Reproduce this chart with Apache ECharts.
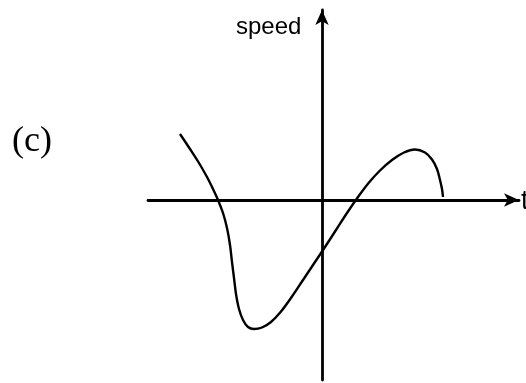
<!DOCTYPE html>
<html>
<head>
<meta charset="utf-8">
<script src="https://cdn.jsdelivr.net/npm/echarts@6/dist/echarts.min.js"></script>
<style>
  html, body { margin: 0; padding: 0; background: #fff; }
  #chart { width: 526px; height: 383px; }
</style>
</head>
<body>
<div id="chart"></div>
<script>
// Sketch of speed against time: t on the horizontal axis, speed on the vertical axis.
const timeValues = [-14.2, -13.2, -12.3, -11.5, -10.9, -10.4, -9.9, -9.5, -9.2, -9.0, -8.8, -8.6, -8.3, -7.9, -7.4, -6.8,
  -6.0, -5.1, -4.1, -3.0, -1.9, -0.8, 0.3, 1.4, 2.5, 3.6, 4.7, 5.8, 7.0, 8.2, 9.3, 10.3, 11.0, 11.5, 11.8, 12.0, 12.1];
const speedValues = [6.6, 5.1, 3.7, 2.3, 1.1, 0.0, -1.3, -2.8, -4.5, -6.2, -7.8, -9.4, -10.9, -12.0, -12.7, -12.9,
  -12.75, -12.2, -11.15, -9.65, -8.0, -6.35, -4.7, -3.0, -1.3, 0.3, 1.75, 2.95, 4.0, 4.75, 5.05, 4.75, 4.05, 3.1, 2.0, 1.1, 0.3];

const xRange = [-17.4, 19.7];
const yRange = [-18, 19];

const axisLabelX = 't';
const axisLabelY = 'speed';
const panelLabel = '(c)';

const curve = timeValues.map((t, i) => [t, speedValues[i]]);

const chart = echarts.init(document.getElementById('chart'), null, { renderer: 'canvas' });

const axisLine = {
  show: true,
  onZero: true,
  symbol: ['none', 'arrow'],
  symbolSize: [10, 15],
  lineStyle: { color: '#000', width: 2.8 }
};

chart.setOption({
  animation: false,
  backgroundColor: '#fff',
  grid: { left: 148, right: 7, top: 10, bottom: 3, containLabel: false },
  xAxis: {
    type: 'value',
    min: xRange[0],
    max: xRange[1],
    axisLine: axisLine,
    axisTick: { show: false },
    axisLabel: { show: false },
    splitLine: { show: false }
  },
  yAxis: {
    type: 'value',
    min: yRange[0],
    max: yRange[1],
    axisLine: axisLine,
    axisTick: { show: false },
    axisLabel: { show: false },
    splitLine: { show: false }
  },
  series: [{
    type: 'line',
    data: curve,
    smooth: 0.35,
    showSymbol: false,
    lineStyle: { color: '#000', width: 2.4 }
  }],
  graphic: [
    {
      type: 'text',
      x: 236, y: 27,
      style: { text: axisLabelY, fill: '#000', font: '24px "Liberation Sans", Arial, sans-serif', verticalAlign: 'middle', align: 'left' }
    },
    {
      type: 'text',
      x: 521, y: 202,
      style: { text: axisLabelX, fill: '#000', font: '27px "Liberation Sans", Arial, sans-serif', verticalAlign: 'middle', align: 'left' }
    },
    {
      type: 'text',
      x: 12, y: 142,
      style: { text: panelLabel, fill: '#000', font: '36px "Liberation Serif", "Times New Roman", serif', verticalAlign: 'middle', align: 'left' }
    }
  ]
});
</script>
</body>
</html>
